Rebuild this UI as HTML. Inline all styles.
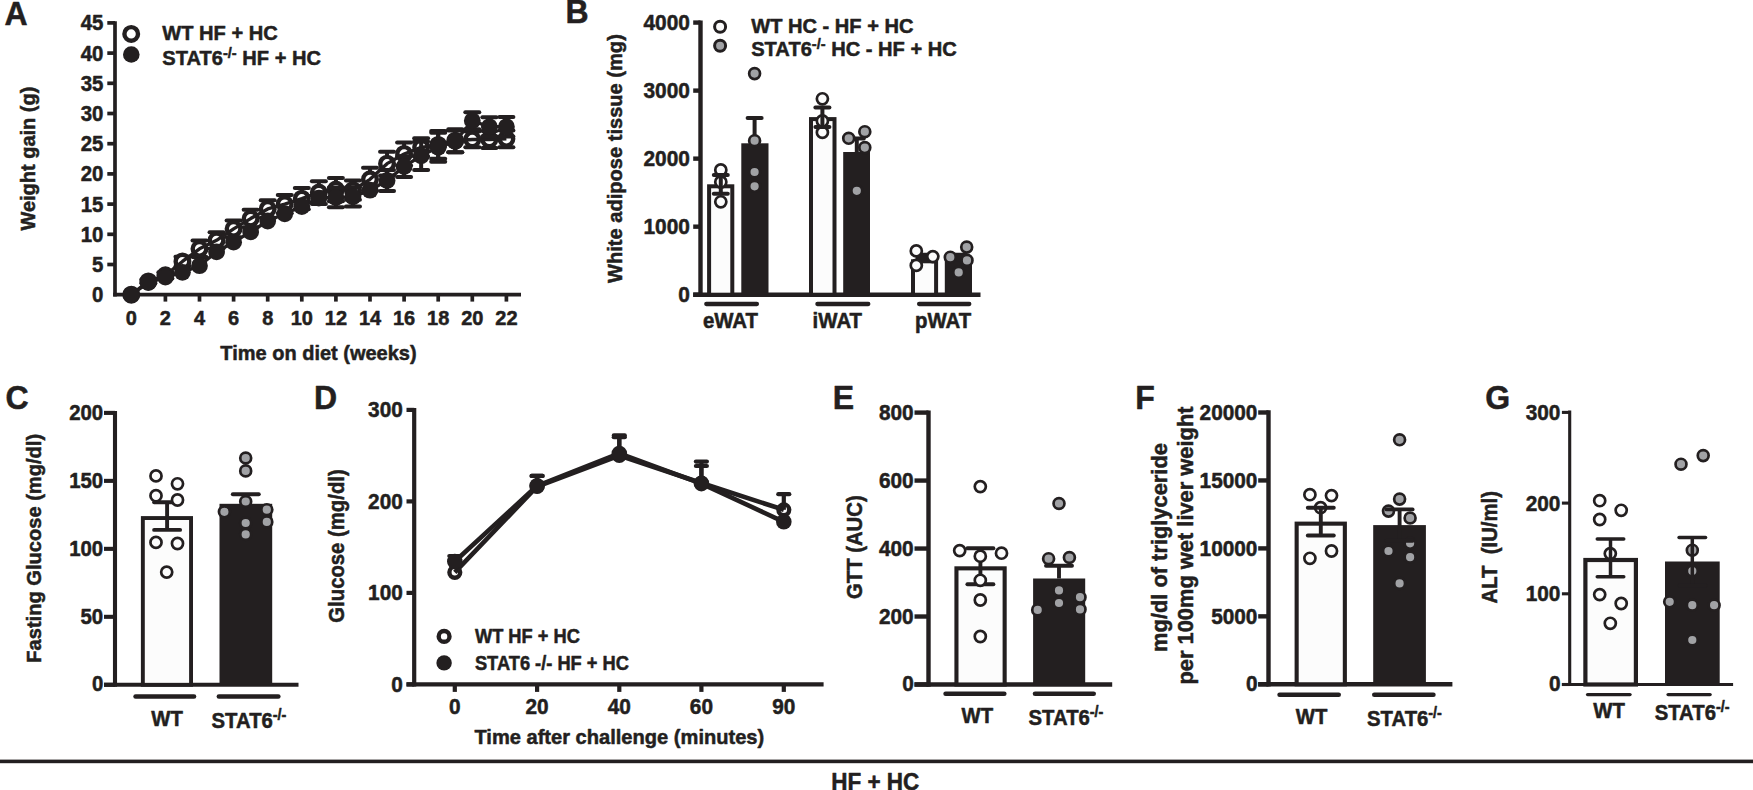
<!DOCTYPE html>
<html lang="en"><head><meta charset="utf-8"><title>Figure</title>
<style>
html,body{margin:0;padding:0;background:#fff;}
svg{display:block;}
svg text{font-family:"Liberation Sans",Arial,Helvetica,sans-serif;font-weight:700;fill:#231f20;stroke:#231f20;stroke-width:0.5px;stroke-linejoin:round;}
</style></head><body>
<svg width="1753" height="790" viewBox="0 0 1753 790">
<rect width="1753" height="790" fill="#fff"/>
<text transform="translate(4.60 24.70) scale(1 1.044)" font-size="32" text-anchor="start">A</text>
<line x1="115.00" y1="21.30" x2="115.00" y2="296.55" stroke="#231f20" stroke-width="3.7" stroke-linecap="butt"/>
<line x1="113.15" y1="294.70" x2="521.00" y2="294.70" stroke="#231f20" stroke-width="3.7" stroke-linecap="butt"/>
<text transform="translate(103.40 301.70) scale(1 1.044)" font-size="20.4" text-anchor="end">0</text>
<line x1="107.30" y1="264.50" x2="115.00" y2="264.50" stroke="#231f20" stroke-width="3.7" stroke-linecap="butt"/>
<text transform="translate(103.40 272.00) scale(1 1.044)" font-size="20.4" text-anchor="end">5</text>
<line x1="107.30" y1="234.30" x2="115.00" y2="234.30" stroke="#231f20" stroke-width="3.7" stroke-linecap="butt"/>
<text transform="translate(103.40 241.80) scale(1 1.044)" font-size="20.4" text-anchor="end">10</text>
<line x1="107.30" y1="204.10" x2="115.00" y2="204.10" stroke="#231f20" stroke-width="3.7" stroke-linecap="butt"/>
<text transform="translate(103.40 211.60) scale(1 1.044)" font-size="20.4" text-anchor="end">15</text>
<line x1="107.30" y1="173.90" x2="115.00" y2="173.90" stroke="#231f20" stroke-width="3.7" stroke-linecap="butt"/>
<text transform="translate(103.40 181.40) scale(1 1.044)" font-size="20.4" text-anchor="end">20</text>
<line x1="107.30" y1="143.70" x2="115.00" y2="143.70" stroke="#231f20" stroke-width="3.7" stroke-linecap="butt"/>
<text transform="translate(103.40 151.20) scale(1 1.044)" font-size="20.4" text-anchor="end">25</text>
<line x1="107.30" y1="113.50" x2="115.00" y2="113.50" stroke="#231f20" stroke-width="3.7" stroke-linecap="butt"/>
<text transform="translate(103.40 121.00) scale(1 1.044)" font-size="20.4" text-anchor="end">30</text>
<line x1="107.30" y1="83.30" x2="115.00" y2="83.30" stroke="#231f20" stroke-width="3.7" stroke-linecap="butt"/>
<text transform="translate(103.40 90.80) scale(1 1.044)" font-size="20.4" text-anchor="end">35</text>
<line x1="107.30" y1="53.10" x2="115.00" y2="53.10" stroke="#231f20" stroke-width="3.7" stroke-linecap="butt"/>
<text transform="translate(103.40 60.60) scale(1 1.044)" font-size="20.4" text-anchor="end">40</text>
<line x1="107.30" y1="22.90" x2="115.00" y2="22.90" stroke="#231f20" stroke-width="3.7" stroke-linecap="butt"/>
<text transform="translate(103.40 30.40) scale(1 1.044)" font-size="20.4" text-anchor="end">45</text>
<line x1="131.30" y1="294.70" x2="131.30" y2="301.60" stroke="#231f20" stroke-width="3.7" stroke-linecap="butt"/>
<text transform="translate(131.30 324.60) scale(1 1.044)" font-size="20" text-anchor="middle">0</text>
<line x1="165.40" y1="294.70" x2="165.40" y2="301.60" stroke="#231f20" stroke-width="3.7" stroke-linecap="butt"/>
<text transform="translate(165.40 324.60) scale(1 1.044)" font-size="20" text-anchor="middle">2</text>
<line x1="199.50" y1="294.70" x2="199.50" y2="301.60" stroke="#231f20" stroke-width="3.7" stroke-linecap="butt"/>
<text transform="translate(199.50 324.60) scale(1 1.044)" font-size="20" text-anchor="middle">4</text>
<line x1="233.60" y1="294.70" x2="233.60" y2="301.60" stroke="#231f20" stroke-width="3.7" stroke-linecap="butt"/>
<text transform="translate(233.60 324.60) scale(1 1.044)" font-size="20" text-anchor="middle">6</text>
<line x1="267.70" y1="294.70" x2="267.70" y2="301.60" stroke="#231f20" stroke-width="3.7" stroke-linecap="butt"/>
<text transform="translate(267.70 324.60) scale(1 1.044)" font-size="20" text-anchor="middle">8</text>
<line x1="301.80" y1="294.70" x2="301.80" y2="301.60" stroke="#231f20" stroke-width="3.7" stroke-linecap="butt"/>
<text transform="translate(301.80 324.60) scale(1 1.044)" font-size="20" text-anchor="middle">10</text>
<line x1="335.90" y1="294.70" x2="335.90" y2="301.60" stroke="#231f20" stroke-width="3.7" stroke-linecap="butt"/>
<text transform="translate(335.90 324.60) scale(1 1.044)" font-size="20" text-anchor="middle">12</text>
<line x1="370.00" y1="294.70" x2="370.00" y2="301.60" stroke="#231f20" stroke-width="3.7" stroke-linecap="butt"/>
<text transform="translate(370.00 324.60) scale(1 1.044)" font-size="20" text-anchor="middle">14</text>
<line x1="404.10" y1="294.70" x2="404.10" y2="301.60" stroke="#231f20" stroke-width="3.7" stroke-linecap="butt"/>
<text transform="translate(404.10 324.60) scale(1 1.044)" font-size="20" text-anchor="middle">16</text>
<line x1="438.20" y1="294.70" x2="438.20" y2="301.60" stroke="#231f20" stroke-width="3.7" stroke-linecap="butt"/>
<text transform="translate(438.20 324.60) scale(1 1.044)" font-size="20" text-anchor="middle">18</text>
<line x1="472.30" y1="294.70" x2="472.30" y2="301.60" stroke="#231f20" stroke-width="3.7" stroke-linecap="butt"/>
<text transform="translate(472.30 324.60) scale(1 1.044)" font-size="20" text-anchor="middle">20</text>
<line x1="506.40" y1="294.70" x2="506.40" y2="301.60" stroke="#231f20" stroke-width="3.7" stroke-linecap="butt"/>
<text transform="translate(506.40 324.60) scale(1 1.044)" font-size="20" text-anchor="middle">22</text>
<text transform="translate(318.50 360.00) scale(1 1.044)" font-size="20" text-anchor="middle">Time on diet (weeks)</text>
<text transform="translate(35.20 158.60) rotate(-90) scale(1 1.044)" font-size="20" text-anchor="middle">Weight gain (g)</text>
<circle cx="131.20" cy="33.90" r="6.80" fill="none" stroke="#231f20" stroke-width="4.4"/>
<circle cx="131.30" cy="54.50" r="8.30" fill="#231f20"/>
<text transform="translate(162.30 40.40) scale(1 1.044)" font-size="20.1" text-anchor="start">WT HF + HC</text>
<text transform="translate(162.30 64.70) scale(1 1.044)" font-size="20.1" text-anchor="start">STAT6<tspan font-size="14.6" dy="-6.8">-/-</tspan><tspan dy="6.8"> HF + HC</tspan></text>
<line x1="148.35" y1="279.60" x2="148.35" y2="283.22" stroke="#231f20" stroke-width="4.0" stroke-linecap="butt"/>
<line x1="141.35" y1="279.60" x2="155.35" y2="279.60" stroke="#231f20" stroke-width="4.0" stroke-linecap="round"/>
<line x1="141.35" y1="283.22" x2="155.35" y2="283.22" stroke="#231f20" stroke-width="4.0" stroke-linecap="round"/>
<line x1="165.40" y1="272.35" x2="165.40" y2="278.39" stroke="#231f20" stroke-width="4.0" stroke-linecap="butt"/>
<line x1="158.40" y1="272.35" x2="172.40" y2="272.35" stroke="#231f20" stroke-width="4.0" stroke-linecap="round"/>
<line x1="158.40" y1="278.39" x2="172.40" y2="278.39" stroke="#231f20" stroke-width="4.0" stroke-linecap="round"/>
<line x1="182.45" y1="256.65" x2="182.45" y2="266.31" stroke="#231f20" stroke-width="4.0" stroke-linecap="butt"/>
<line x1="175.45" y1="256.65" x2="189.45" y2="256.65" stroke="#231f20" stroke-width="4.0" stroke-linecap="round"/>
<line x1="175.45" y1="266.31" x2="189.45" y2="266.31" stroke="#231f20" stroke-width="4.0" stroke-linecap="round"/>
<line x1="199.50" y1="240.52" x2="199.50" y2="257.07" stroke="#231f20" stroke-width="4.0" stroke-linecap="butt"/>
<line x1="192.50" y1="240.52" x2="206.50" y2="240.52" stroke="#231f20" stroke-width="4.0" stroke-linecap="round"/>
<line x1="192.50" y1="257.07" x2="206.50" y2="257.07" stroke="#231f20" stroke-width="4.0" stroke-linecap="round"/>
<line x1="216.55" y1="232.19" x2="216.55" y2="248.49" stroke="#231f20" stroke-width="4.0" stroke-linecap="butt"/>
<line x1="209.55" y1="232.19" x2="223.55" y2="232.19" stroke="#231f20" stroke-width="4.0" stroke-linecap="round"/>
<line x1="209.55" y1="248.49" x2="223.55" y2="248.49" stroke="#231f20" stroke-width="4.0" stroke-linecap="round"/>
<line x1="233.60" y1="220.59" x2="233.60" y2="237.14" stroke="#231f20" stroke-width="4.0" stroke-linecap="butt"/>
<line x1="226.60" y1="220.59" x2="240.60" y2="220.59" stroke="#231f20" stroke-width="4.0" stroke-linecap="round"/>
<line x1="226.60" y1="237.14" x2="240.60" y2="237.14" stroke="#231f20" stroke-width="4.0" stroke-linecap="round"/>
<line x1="250.65" y1="209.84" x2="250.65" y2="227.35" stroke="#231f20" stroke-width="4.0" stroke-linecap="butt"/>
<line x1="243.65" y1="209.84" x2="257.65" y2="209.84" stroke="#231f20" stroke-width="4.0" stroke-linecap="round"/>
<line x1="243.65" y1="227.35" x2="257.65" y2="227.35" stroke="#231f20" stroke-width="4.0" stroke-linecap="round"/>
<line x1="267.70" y1="200.17" x2="267.70" y2="217.69" stroke="#231f20" stroke-width="4.0" stroke-linecap="butt"/>
<line x1="260.70" y1="200.17" x2="274.70" y2="200.17" stroke="#231f20" stroke-width="4.0" stroke-linecap="round"/>
<line x1="260.70" y1="217.69" x2="274.70" y2="217.69" stroke="#231f20" stroke-width="4.0" stroke-linecap="round"/>
<line x1="284.75" y1="195.04" x2="284.75" y2="213.16" stroke="#231f20" stroke-width="4.0" stroke-linecap="butt"/>
<line x1="277.75" y1="195.04" x2="291.75" y2="195.04" stroke="#231f20" stroke-width="4.0" stroke-linecap="round"/>
<line x1="277.75" y1="213.16" x2="291.75" y2="213.16" stroke="#231f20" stroke-width="4.0" stroke-linecap="round"/>
<line x1="301.80" y1="188.09" x2="301.80" y2="209.23" stroke="#231f20" stroke-width="4.0" stroke-linecap="butt"/>
<line x1="294.80" y1="188.09" x2="308.80" y2="188.09" stroke="#231f20" stroke-width="4.0" stroke-linecap="round"/>
<line x1="294.80" y1="209.23" x2="308.80" y2="209.23" stroke="#231f20" stroke-width="4.0" stroke-linecap="round"/>
<line x1="318.85" y1="181.15" x2="318.85" y2="204.10" stroke="#231f20" stroke-width="4.0" stroke-linecap="butt"/>
<line x1="311.85" y1="181.15" x2="325.85" y2="181.15" stroke="#231f20" stroke-width="4.0" stroke-linecap="round"/>
<line x1="311.85" y1="204.10" x2="325.85" y2="204.10" stroke="#231f20" stroke-width="4.0" stroke-linecap="round"/>
<line x1="335.90" y1="178.01" x2="335.90" y2="201.20" stroke="#231f20" stroke-width="4.0" stroke-linecap="butt"/>
<line x1="328.90" y1="178.01" x2="342.90" y2="178.01" stroke="#231f20" stroke-width="4.0" stroke-linecap="round"/>
<line x1="328.90" y1="201.20" x2="342.90" y2="201.20" stroke="#231f20" stroke-width="4.0" stroke-linecap="round"/>
<line x1="352.95" y1="180.54" x2="352.95" y2="199.87" stroke="#231f20" stroke-width="4.0" stroke-linecap="butt"/>
<line x1="345.95" y1="180.54" x2="359.95" y2="180.54" stroke="#231f20" stroke-width="4.0" stroke-linecap="round"/>
<line x1="345.95" y1="199.87" x2="359.95" y2="199.87" stroke="#231f20" stroke-width="4.0" stroke-linecap="round"/>
<line x1="370.00" y1="167.86" x2="370.00" y2="190.81" stroke="#231f20" stroke-width="4.0" stroke-linecap="butt"/>
<line x1="363.00" y1="167.86" x2="377.00" y2="167.86" stroke="#231f20" stroke-width="4.0" stroke-linecap="round"/>
<line x1="363.00" y1="190.81" x2="377.00" y2="190.81" stroke="#231f20" stroke-width="4.0" stroke-linecap="round"/>
<line x1="387.05" y1="151.85" x2="387.05" y2="175.41" stroke="#231f20" stroke-width="4.0" stroke-linecap="butt"/>
<line x1="380.05" y1="151.85" x2="394.05" y2="151.85" stroke="#231f20" stroke-width="4.0" stroke-linecap="round"/>
<line x1="380.05" y1="175.41" x2="394.05" y2="175.41" stroke="#231f20" stroke-width="4.0" stroke-linecap="round"/>
<line x1="404.10" y1="142.49" x2="404.10" y2="165.44" stroke="#231f20" stroke-width="4.0" stroke-linecap="butt"/>
<line x1="397.10" y1="142.49" x2="411.10" y2="142.49" stroke="#231f20" stroke-width="4.0" stroke-linecap="round"/>
<line x1="397.10" y1="165.44" x2="411.10" y2="165.44" stroke="#231f20" stroke-width="4.0" stroke-linecap="round"/>
<line x1="421.15" y1="138.26" x2="421.15" y2="156.38" stroke="#231f20" stroke-width="4.0" stroke-linecap="butt"/>
<line x1="414.15" y1="138.26" x2="428.15" y2="138.26" stroke="#231f20" stroke-width="4.0" stroke-linecap="round"/>
<line x1="414.15" y1="156.38" x2="428.15" y2="156.38" stroke="#231f20" stroke-width="4.0" stroke-linecap="round"/>
<line x1="438.20" y1="131.02" x2="438.20" y2="158.80" stroke="#231f20" stroke-width="4.0" stroke-linecap="butt"/>
<line x1="431.20" y1="131.02" x2="445.20" y2="131.02" stroke="#231f20" stroke-width="4.0" stroke-linecap="round"/>
<line x1="431.20" y1="158.80" x2="445.20" y2="158.80" stroke="#231f20" stroke-width="4.0" stroke-linecap="round"/>
<line x1="455.25" y1="129.20" x2="455.25" y2="152.16" stroke="#231f20" stroke-width="4.0" stroke-linecap="butt"/>
<line x1="448.25" y1="129.20" x2="462.25" y2="129.20" stroke="#231f20" stroke-width="4.0" stroke-linecap="round"/>
<line x1="448.25" y1="152.16" x2="462.25" y2="152.16" stroke="#231f20" stroke-width="4.0" stroke-linecap="round"/>
<line x1="472.30" y1="131.62" x2="472.30" y2="147.32" stroke="#231f20" stroke-width="4.0" stroke-linecap="butt"/>
<line x1="465.30" y1="131.62" x2="479.30" y2="131.62" stroke="#231f20" stroke-width="4.0" stroke-linecap="round"/>
<line x1="465.30" y1="147.32" x2="479.30" y2="147.32" stroke="#231f20" stroke-width="4.0" stroke-linecap="round"/>
<line x1="489.35" y1="131.02" x2="489.35" y2="147.93" stroke="#231f20" stroke-width="4.0" stroke-linecap="butt"/>
<line x1="482.35" y1="131.02" x2="496.35" y2="131.02" stroke="#231f20" stroke-width="4.0" stroke-linecap="round"/>
<line x1="482.35" y1="147.93" x2="496.35" y2="147.93" stroke="#231f20" stroke-width="4.0" stroke-linecap="round"/>
<line x1="506.40" y1="130.41" x2="506.40" y2="147.32" stroke="#231f20" stroke-width="4.0" stroke-linecap="butt"/>
<line x1="499.40" y1="130.41" x2="513.40" y2="130.41" stroke="#231f20" stroke-width="4.0" stroke-linecap="round"/>
<line x1="499.40" y1="147.32" x2="513.40" y2="147.32" stroke="#231f20" stroke-width="4.0" stroke-linecap="round"/>
<circle cx="131.30" cy="294.70" r="6.80" fill="#fff" stroke="#231f20" stroke-width="4.4"/>
<circle cx="148.35" cy="281.41" r="6.80" fill="#fff" stroke="#231f20" stroke-width="4.4"/>
<circle cx="165.40" cy="275.37" r="6.80" fill="#fff" stroke="#231f20" stroke-width="4.4"/>
<circle cx="182.45" cy="261.48" r="6.80" fill="#fff" stroke="#231f20" stroke-width="4.4"/>
<circle cx="199.50" cy="248.80" r="6.80" fill="#fff" stroke="#231f20" stroke-width="4.4"/>
<circle cx="216.55" cy="240.34" r="6.80" fill="#fff" stroke="#231f20" stroke-width="4.4"/>
<circle cx="233.60" cy="228.86" r="6.80" fill="#fff" stroke="#231f20" stroke-width="4.4"/>
<circle cx="250.65" cy="218.60" r="6.80" fill="#fff" stroke="#231f20" stroke-width="4.4"/>
<circle cx="267.70" cy="208.93" r="6.80" fill="#fff" stroke="#231f20" stroke-width="4.4"/>
<circle cx="284.75" cy="204.10" r="6.80" fill="#fff" stroke="#231f20" stroke-width="4.4"/>
<circle cx="301.80" cy="198.66" r="6.80" fill="#fff" stroke="#231f20" stroke-width="4.4"/>
<circle cx="318.85" cy="192.62" r="6.80" fill="#fff" stroke="#231f20" stroke-width="4.4"/>
<circle cx="335.90" cy="189.60" r="6.80" fill="#fff" stroke="#231f20" stroke-width="4.4"/>
<circle cx="352.95" cy="190.21" r="6.80" fill="#fff" stroke="#231f20" stroke-width="4.4"/>
<circle cx="370.00" cy="179.34" r="6.80" fill="#fff" stroke="#231f20" stroke-width="4.4"/>
<circle cx="387.05" cy="163.63" r="6.80" fill="#fff" stroke="#231f20" stroke-width="4.4"/>
<circle cx="404.10" cy="153.97" r="6.80" fill="#fff" stroke="#231f20" stroke-width="4.4"/>
<circle cx="421.15" cy="147.32" r="6.80" fill="#fff" stroke="#231f20" stroke-width="4.4"/>
<circle cx="438.20" cy="144.91" r="6.80" fill="#fff" stroke="#231f20" stroke-width="4.4"/>
<circle cx="455.25" cy="140.68" r="6.80" fill="#fff" stroke="#231f20" stroke-width="4.4"/>
<circle cx="472.30" cy="139.47" r="6.80" fill="#fff" stroke="#231f20" stroke-width="4.4"/>
<circle cx="489.35" cy="139.47" r="6.80" fill="#fff" stroke="#231f20" stroke-width="4.4"/>
<circle cx="506.40" cy="138.87" r="6.80" fill="#fff" stroke="#231f20" stroke-width="4.4"/>
<polyline points="131.30,294.70 148.35,281.41 165.40,275.37 182.45,261.48 199.50,248.80 216.55,240.34 233.60,228.86 250.65,218.60 267.70,208.93 284.75,204.10 301.80,198.66 318.85,192.62 335.90,189.60 352.95,190.21 370.00,179.34 387.05,163.63 404.10,153.97 421.15,147.32 438.20,144.91 455.25,140.68 472.30,139.47 489.35,139.47 506.40,138.87" fill="none" stroke="#231f20" stroke-width="3.4" stroke-linejoin="round"/>
<polyline points="131.30,294.70 148.35,282.62 165.40,277.18 182.45,272.35 199.50,265.71 216.55,251.82 233.60,242.15 250.65,231.88 267.70,221.01 284.75,213.76 301.80,206.52 318.85,198.06 335.90,197.46 352.95,196.85 370.00,190.21 387.05,180.54 404.10,166.65 421.15,155.78 438.20,147.32 455.25,141.28 472.30,120.75 489.35,126.79 506.40,126.79" fill="none" stroke="#231f20" stroke-width="3.4" stroke-linejoin="round"/>
<line x1="335.90" y1="187.55" x2="335.90" y2="207.36" stroke="#231f20" stroke-width="4.0" stroke-linecap="butt"/>
<line x1="328.90" y1="187.55" x2="342.90" y2="187.55" stroke="#231f20" stroke-width="4.0" stroke-linecap="round"/>
<line x1="328.90" y1="207.36" x2="342.90" y2="207.36" stroke="#231f20" stroke-width="4.0" stroke-linecap="round"/>
<line x1="352.95" y1="187.19" x2="352.95" y2="206.52" stroke="#231f20" stroke-width="4.0" stroke-linecap="butt"/>
<line x1="345.95" y1="187.19" x2="359.95" y2="187.19" stroke="#231f20" stroke-width="4.0" stroke-linecap="round"/>
<line x1="345.95" y1="206.52" x2="359.95" y2="206.52" stroke="#231f20" stroke-width="4.0" stroke-linecap="round"/>
<line x1="387.05" y1="170.03" x2="387.05" y2="191.05" stroke="#231f20" stroke-width="4.0" stroke-linecap="butt"/>
<line x1="380.05" y1="170.03" x2="394.05" y2="170.03" stroke="#231f20" stroke-width="4.0" stroke-linecap="round"/>
<line x1="380.05" y1="191.05" x2="394.05" y2="191.05" stroke="#231f20" stroke-width="4.0" stroke-linecap="round"/>
<line x1="404.10" y1="156.26" x2="404.10" y2="177.04" stroke="#231f20" stroke-width="4.0" stroke-linecap="butt"/>
<line x1="397.10" y1="156.26" x2="411.10" y2="156.26" stroke="#231f20" stroke-width="4.0" stroke-linecap="round"/>
<line x1="397.10" y1="177.04" x2="411.10" y2="177.04" stroke="#231f20" stroke-width="4.0" stroke-linecap="round"/>
<line x1="421.15" y1="141.59" x2="421.15" y2="169.97" stroke="#231f20" stroke-width="4.0" stroke-linecap="butt"/>
<line x1="414.15" y1="141.59" x2="428.15" y2="141.59" stroke="#231f20" stroke-width="4.0" stroke-linecap="round"/>
<line x1="414.15" y1="169.97" x2="428.15" y2="169.97" stroke="#231f20" stroke-width="4.0" stroke-linecap="round"/>
<line x1="438.20" y1="132.83" x2="438.20" y2="161.82" stroke="#231f20" stroke-width="4.0" stroke-linecap="butt"/>
<line x1="431.20" y1="132.83" x2="445.20" y2="132.83" stroke="#231f20" stroke-width="4.0" stroke-linecap="round"/>
<line x1="431.20" y1="161.82" x2="445.20" y2="161.82" stroke="#231f20" stroke-width="4.0" stroke-linecap="round"/>
<line x1="455.25" y1="130.41" x2="455.25" y2="152.16" stroke="#231f20" stroke-width="4.0" stroke-linecap="butt"/>
<line x1="448.25" y1="130.41" x2="462.25" y2="130.41" stroke="#231f20" stroke-width="4.0" stroke-linecap="round"/>
<line x1="448.25" y1="152.16" x2="462.25" y2="152.16" stroke="#231f20" stroke-width="4.0" stroke-linecap="round"/>
<line x1="472.30" y1="112.29" x2="472.30" y2="129.20" stroke="#231f20" stroke-width="4.0" stroke-linecap="butt"/>
<line x1="465.30" y1="112.29" x2="479.30" y2="112.29" stroke="#231f20" stroke-width="4.0" stroke-linecap="round"/>
<line x1="465.30" y1="129.20" x2="479.30" y2="129.20" stroke="#231f20" stroke-width="4.0" stroke-linecap="round"/>
<line x1="489.35" y1="117.31" x2="489.35" y2="136.27" stroke="#231f20" stroke-width="4.0" stroke-linecap="butt"/>
<line x1="482.35" y1="117.31" x2="496.35" y2="117.31" stroke="#231f20" stroke-width="4.0" stroke-linecap="round"/>
<line x1="482.35" y1="136.27" x2="496.35" y2="136.27" stroke="#231f20" stroke-width="4.0" stroke-linecap="round"/>
<line x1="506.40" y1="117.12" x2="506.40" y2="136.45" stroke="#231f20" stroke-width="4.0" stroke-linecap="butt"/>
<line x1="499.40" y1="117.12" x2="513.40" y2="117.12" stroke="#231f20" stroke-width="4.0" stroke-linecap="round"/>
<line x1="499.40" y1="136.45" x2="513.40" y2="136.45" stroke="#231f20" stroke-width="4.0" stroke-linecap="round"/>
<circle cx="131.30" cy="294.70" r="8.40" fill="#231f20"/>
<circle cx="148.35" cy="282.62" r="8.40" fill="#231f20"/>
<circle cx="165.40" cy="277.18" r="8.40" fill="#231f20"/>
<circle cx="182.45" cy="272.35" r="8.40" fill="#231f20"/>
<circle cx="199.50" cy="265.71" r="8.40" fill="#231f20"/>
<circle cx="216.55" cy="251.82" r="8.40" fill="#231f20"/>
<circle cx="233.60" cy="242.15" r="8.40" fill="#231f20"/>
<circle cx="250.65" cy="231.88" r="8.40" fill="#231f20"/>
<circle cx="267.70" cy="221.01" r="8.40" fill="#231f20"/>
<circle cx="284.75" cy="213.76" r="8.40" fill="#231f20"/>
<circle cx="301.80" cy="206.52" r="8.40" fill="#231f20"/>
<circle cx="318.85" cy="198.06" r="8.40" fill="#231f20"/>
<circle cx="335.90" cy="197.46" r="8.40" fill="#231f20"/>
<circle cx="352.95" cy="196.85" r="8.40" fill="#231f20"/>
<circle cx="370.00" cy="190.21" r="8.40" fill="#231f20"/>
<circle cx="387.05" cy="180.54" r="8.40" fill="#231f20"/>
<circle cx="404.10" cy="166.65" r="8.40" fill="#231f20"/>
<circle cx="421.15" cy="155.78" r="8.40" fill="#231f20"/>
<circle cx="438.20" cy="147.32" r="8.40" fill="#231f20"/>
<circle cx="455.25" cy="141.28" r="8.40" fill="#231f20"/>
<circle cx="472.30" cy="120.75" r="8.40" fill="#231f20"/>
<circle cx="489.35" cy="126.79" r="8.40" fill="#231f20"/>
<circle cx="506.40" cy="126.79" r="8.40" fill="#231f20"/>
<text transform="translate(565.40 23.40) scale(1 1.044)" font-size="32" text-anchor="start">B</text>
<line x1="700.50" y1="20.40" x2="700.50" y2="296.90" stroke="#231f20" stroke-width="4.4" stroke-linecap="butt"/>
<line x1="693.20" y1="294.70" x2="980.50" y2="294.70" stroke="#231f20" stroke-width="4.4" stroke-linecap="butt"/>
<line x1="693.20" y1="294.70" x2="700.50" y2="294.70" stroke="#231f20" stroke-width="4.4" stroke-linecap="butt"/>
<text transform="translate(690.00 301.50) scale(1 1.044)" font-size="20.9" text-anchor="end">0</text>
<line x1="693.20" y1="226.67" x2="700.50" y2="226.67" stroke="#231f20" stroke-width="4.4" stroke-linecap="butt"/>
<text transform="translate(690.00 234.27) scale(1 1.044)" font-size="20.9" text-anchor="end">1000</text>
<line x1="693.20" y1="158.64" x2="700.50" y2="158.64" stroke="#231f20" stroke-width="4.4" stroke-linecap="butt"/>
<text transform="translate(690.00 166.24) scale(1 1.044)" font-size="20.9" text-anchor="end">2000</text>
<line x1="693.20" y1="90.61" x2="700.50" y2="90.61" stroke="#231f20" stroke-width="4.4" stroke-linecap="butt"/>
<text transform="translate(690.00 98.21) scale(1 1.044)" font-size="20.9" text-anchor="end">3000</text>
<line x1="693.20" y1="22.58" x2="700.50" y2="22.58" stroke="#231f20" stroke-width="4.4" stroke-linecap="butt"/>
<text transform="translate(690.00 30.18) scale(1 1.044)" font-size="20.9" text-anchor="end">4000</text>
<text transform="translate(622.00 158.60) rotate(-90) scale(1 1.044)" font-size="20.1" text-anchor="middle">White adipose tissue (mg)</text>
<circle cx="720.10" cy="26.80" r="5.50" fill="#fcfcfc" stroke="#231f20" stroke-width="3.0"/>
<circle cx="720.10" cy="45.80" r="5.50" fill="#a1a2a5" stroke="#231f20" stroke-width="3.0"/>
<text transform="translate(751.20 33.30) scale(1 1.044)" font-size="20.1" text-anchor="start">WT HC - HF + HC</text>
<text transform="translate(751.20 56.10) scale(1 1.044)" font-size="20.1" text-anchor="start">STAT6<tspan font-size="14.6" dy="-7.2">-/-</tspan><tspan dy="7.2"> HC - HF + HC</tspan></text>
<rect x="709.10" y="186.30" width="23.20" height="108.40" fill="#fcfcfc" stroke="#231f20" stroke-width="4.0"/>
<rect x="741.30" y="143.30" width="27.20" height="151.40" fill="#231f20"/>
<rect x="811.00" y="119.10" width="23.50" height="175.60" fill="#fcfcfc" stroke="#231f20" stroke-width="4.0"/>
<rect x="843.20" y="152.00" width="26.80" height="142.70" fill="#231f20"/>
<rect x="913.00" y="261.30" width="23.10" height="33.40" fill="#fcfcfc" stroke="#231f20" stroke-width="4.0"/>
<rect x="944.80" y="259.30" width="27.20" height="35.40" fill="#231f20"/>
<circle cx="720.80" cy="170.00" r="5.55" fill="#fcfcfc" stroke="#231f20" stroke-width="2.7"/>
<circle cx="720.80" cy="182.00" r="5.55" fill="#fcfcfc" stroke="#231f20" stroke-width="2.7"/>
<circle cx="720.80" cy="201.80" r="5.55" fill="#fcfcfc" stroke="#231f20" stroke-width="2.7"/>
<circle cx="822.40" cy="98.80" r="5.55" fill="#fcfcfc" stroke="#231f20" stroke-width="2.7"/>
<circle cx="822.40" cy="121.00" r="5.55" fill="#fcfcfc" stroke="#231f20" stroke-width="2.7"/>
<circle cx="822.40" cy="132.40" r="5.55" fill="#fcfcfc" stroke="#231f20" stroke-width="2.7"/>
<line x1="720.80" y1="174.90" x2="720.80" y2="193.70" stroke="#231f20" stroke-width="4.0" stroke-linecap="butt"/>
<line x1="713.80" y1="174.90" x2="727.80" y2="174.90" stroke="#231f20" stroke-width="4.0" stroke-linecap="round"/>
<line x1="713.80" y1="193.70" x2="727.80" y2="193.70" stroke="#231f20" stroke-width="4.0" stroke-linecap="round"/>
<line x1="822.40" y1="107.40" x2="822.40" y2="127.00" stroke="#231f20" stroke-width="4.0" stroke-linecap="butt"/>
<line x1="815.40" y1="107.40" x2="829.40" y2="107.40" stroke="#231f20" stroke-width="4.0" stroke-linecap="round"/>
<line x1="815.40" y1="127.00" x2="829.40" y2="127.00" stroke="#231f20" stroke-width="4.0" stroke-linecap="round"/>
<line x1="754.60" y1="118.00" x2="754.60" y2="143.30" stroke="#231f20" stroke-width="4.0" stroke-linecap="butt"/>
<line x1="747.60" y1="118.00" x2="761.60" y2="118.00" stroke="#231f20" stroke-width="4.0" stroke-linecap="round"/>
<line x1="856.80" y1="138.40" x2="856.80" y2="152.00" stroke="#231f20" stroke-width="4.0" stroke-linecap="butt"/>
<line x1="849.80" y1="138.40" x2="863.80" y2="138.40" stroke="#231f20" stroke-width="4.0" stroke-linecap="round"/>
<circle cx="754.60" cy="73.60" r="5.45" fill="#a1a2a5" stroke="#231f20" stroke-width="2.7"/>
<circle cx="754.60" cy="140.70" r="5.45" fill="#a1a2a5" stroke="#231f20" stroke-width="2.7"/>
<circle cx="754.60" cy="172.00" r="5.45" fill="#a1a2a5" stroke="#231f20" stroke-width="2.7"/>
<circle cx="754.60" cy="186.30" r="5.45" fill="#a1a2a5" stroke="#231f20" stroke-width="2.7"/>
<circle cx="848.70" cy="138.30" r="5.45" fill="#a1a2a5" stroke="#231f20" stroke-width="2.7"/>
<circle cx="864.80" cy="131.70" r="5.45" fill="#a1a2a5" stroke="#231f20" stroke-width="2.7"/>
<circle cx="864.80" cy="147.60" r="5.45" fill="#a1a2a5" stroke="#231f20" stroke-width="2.7"/>
<circle cx="856.80" cy="190.80" r="5.45" fill="#a1a2a5" stroke="#231f20" stroke-width="2.7"/>
<line x1="924.50" y1="254.80" x2="924.50" y2="258.50" stroke="#231f20" stroke-width="4.0" stroke-linecap="butt"/>
<line x1="917.50" y1="254.80" x2="931.50" y2="254.80" stroke="#231f20" stroke-width="4.0" stroke-linecap="round"/>
<line x1="917.50" y1="258.50" x2="931.50" y2="258.50" stroke="#231f20" stroke-width="4.0" stroke-linecap="round"/>
<line x1="917.50" y1="256.70" x2="931.50" y2="256.70" stroke="#231f20" stroke-width="4.0" stroke-linecap="round"/>
<line x1="958.50" y1="254.80" x2="958.50" y2="257.50" stroke="#231f20" stroke-width="4.0" stroke-linecap="butt"/>
<line x1="951.50" y1="254.80" x2="965.50" y2="254.80" stroke="#231f20" stroke-width="4.0" stroke-linecap="round"/>
<line x1="951.50" y1="257.50" x2="965.50" y2="257.50" stroke="#231f20" stroke-width="4.0" stroke-linecap="round"/>
<line x1="951.50" y1="256.20" x2="965.50" y2="256.20" stroke="#231f20" stroke-width="4.0" stroke-linecap="round"/>
<rect x="951.00" y="255.00" width="15.00" height="6.50" fill="#231f20"/>
<rect x="917.50" y="255.00" width="14.00" height="5.00" fill="#231f20"/>
<circle cx="916.30" cy="250.90" r="5.55" fill="#fcfcfc" stroke="#231f20" stroke-width="2.7"/>
<circle cx="932.80" cy="256.60" r="5.55" fill="#fcfcfc" stroke="#231f20" stroke-width="2.7"/>
<circle cx="916.30" cy="265.40" r="5.55" fill="#fcfcfc" stroke="#231f20" stroke-width="2.7"/>
<circle cx="966.70" cy="247.10" r="5.45" fill="#a1a2a5" stroke="#231f20" stroke-width="2.7"/>
<circle cx="950.30" cy="257.20" r="5.45" fill="#a1a2a5" stroke="#231f20" stroke-width="2.7"/>
<circle cx="967.00" cy="260.40" r="5.45" fill="#a1a2a5" stroke="#231f20" stroke-width="2.7"/>
<circle cx="958.70" cy="272.40" r="5.45" fill="#a1a2a5" stroke="#231f20" stroke-width="2.7"/>
<line x1="706.30" y1="304.00" x2="756.90" y2="304.00" stroke="#231f20" stroke-width="4.3" stroke-linecap="round"/>
<text transform="translate(702.90 328.10) scale(1 1.044)" font-size="20.4" text-anchor="start">eWAT</text>
<line x1="817.40" y1="304.00" x2="868.30" y2="304.00" stroke="#231f20" stroke-width="4.3" stroke-linecap="round"/>
<text transform="translate(812.60 328.10) scale(1 1.044)" font-size="20.4" text-anchor="start">iWAT</text>
<line x1="919.10" y1="304.00" x2="969.30" y2="304.00" stroke="#231f20" stroke-width="4.3" stroke-linecap="round"/>
<text transform="translate(915.00 328.10) scale(1 1.044)" font-size="20.4" text-anchor="start">pWAT</text>
<text transform="translate(5.60 408.70) scale(1 1.044)" font-size="32" text-anchor="start">C</text>
<line x1="115.00" y1="411.00" x2="115.00" y2="686.85" stroke="#231f20" stroke-width="4.1" stroke-linecap="butt"/>
<line x1="104.00" y1="684.80" x2="298.50" y2="684.80" stroke="#231f20" stroke-width="4.1" stroke-linecap="butt"/>
<line x1="104.00" y1="684.80" x2="115.00" y2="684.80" stroke="#231f20" stroke-width="4.1" stroke-linecap="butt"/>
<text transform="translate(103.40 691.26) scale(1 1.044)" font-size="20.4" text-anchor="end">0</text>
<line x1="104.00" y1="616.82" x2="115.00" y2="616.82" stroke="#231f20" stroke-width="4.1" stroke-linecap="butt"/>
<text transform="translate(103.20 624.08) scale(1 1.044)" font-size="20.4" text-anchor="end">50</text>
<line x1="104.00" y1="548.85" x2="115.00" y2="548.85" stroke="#231f20" stroke-width="4.1" stroke-linecap="butt"/>
<text transform="translate(103.20 556.11) scale(1 1.044)" font-size="20.4" text-anchor="end">100</text>
<line x1="104.00" y1="480.87" x2="115.00" y2="480.87" stroke="#231f20" stroke-width="4.1" stroke-linecap="butt"/>
<text transform="translate(103.20 488.13) scale(1 1.044)" font-size="20.4" text-anchor="end">150</text>
<line x1="104.00" y1="412.90" x2="115.00" y2="412.90" stroke="#231f20" stroke-width="4.1" stroke-linecap="butt"/>
<text transform="translate(103.20 420.16) scale(1 1.044)" font-size="20.4" text-anchor="end">200</text>
<text transform="translate(41.00 548.30) rotate(-90) scale(1 1.044)" font-size="20.1" text-anchor="middle">Fasting Glucose (mg/dl)</text>
<rect x="142.85" y="518.05" width="48.20" height="166.75" fill="#fcfcfc" stroke="#231f20" stroke-width="3.9"/>
<rect x="219.50" y="503.80" width="52.70" height="181.00" fill="#231f20"/>
<line x1="167.10" y1="502.30" x2="167.10" y2="529.90" stroke="#231f20" stroke-width="3.9" stroke-linecap="butt"/>
<line x1="154.10" y1="502.30" x2="180.10" y2="502.30" stroke="#231f20" stroke-width="3.9" stroke-linecap="round"/>
<line x1="154.10" y1="529.90" x2="180.10" y2="529.90" stroke="#231f20" stroke-width="3.9" stroke-linecap="round"/>
<line x1="245.80" y1="494.20" x2="245.80" y2="503.80" stroke="#231f20" stroke-width="3.9" stroke-linecap="butt"/>
<line x1="232.80" y1="494.20" x2="258.80" y2="494.20" stroke="#231f20" stroke-width="3.9" stroke-linecap="round"/>
<circle cx="156.00" cy="475.90" r="5.55" fill="#fcfcfc" stroke="#231f20" stroke-width="2.7"/>
<circle cx="177.50" cy="483.80" r="5.55" fill="#fcfcfc" stroke="#231f20" stroke-width="2.7"/>
<circle cx="156.00" cy="495.70" r="5.55" fill="#fcfcfc" stroke="#231f20" stroke-width="2.7"/>
<circle cx="177.50" cy="500.00" r="5.55" fill="#fcfcfc" stroke="#231f20" stroke-width="2.7"/>
<circle cx="156.00" cy="542.40" r="5.55" fill="#fcfcfc" stroke="#231f20" stroke-width="2.7"/>
<circle cx="177.50" cy="543.50" r="5.55" fill="#fcfcfc" stroke="#231f20" stroke-width="2.7"/>
<circle cx="166.70" cy="572.10" r="5.55" fill="#fcfcfc" stroke="#231f20" stroke-width="2.7"/>
<circle cx="245.70" cy="458.00" r="5.45" fill="#a1a2a5" stroke="#231f20" stroke-width="2.7"/>
<circle cx="245.70" cy="470.90" r="5.45" fill="#a1a2a5" stroke="#231f20" stroke-width="2.7"/>
<circle cx="245.70" cy="501.50" r="5.45" fill="#a1a2a5" stroke="#231f20" stroke-width="2.7"/>
<circle cx="224.40" cy="511.80" r="5.45" fill="#a1a2a5" stroke="#231f20" stroke-width="2.7"/>
<circle cx="266.80" cy="509.70" r="5.45" fill="#a1a2a5" stroke="#231f20" stroke-width="2.7"/>
<circle cx="266.80" cy="521.90" r="5.45" fill="#a1a2a5" stroke="#231f20" stroke-width="2.7"/>
<circle cx="245.70" cy="523.00" r="5.45" fill="#a1a2a5" stroke="#231f20" stroke-width="2.7"/>
<circle cx="245.70" cy="534.40" r="5.45" fill="#a1a2a5" stroke="#231f20" stroke-width="2.7"/>
<line x1="135.60" y1="696.50" x2="194.00" y2="696.50" stroke="#231f20" stroke-width="4.6" stroke-linecap="round"/>
<line x1="218.90" y1="696.50" x2="278.30" y2="696.50" stroke="#231f20" stroke-width="4.6" stroke-linecap="round"/>
<text transform="translate(167.00 726.00) scale(1 1.085)" font-size="20.3" text-anchor="middle">WT</text>
<text transform="translate(249.00 727.90) scale(1 1.085)" font-size="20.3" text-anchor="middle">STAT6<tspan font-size="14.4" dy="-7.5">-/-</tspan></text>
<text transform="translate(314.00 408.90) scale(1 1.044)" font-size="32" text-anchor="start">D</text>
<line x1="414.20" y1="408.00" x2="414.20" y2="686.50" stroke="#231f20" stroke-width="4.2" stroke-linecap="butt"/>
<line x1="406.50" y1="684.40" x2="823.60" y2="684.40" stroke="#231f20" stroke-width="4.2" stroke-linecap="butt"/>
<line x1="406.50" y1="684.40" x2="414.20" y2="684.40" stroke="#231f20" stroke-width="4.2" stroke-linecap="butt"/>
<text transform="translate(402.80 691.70) scale(1 1.044)" font-size="20.8" text-anchor="end">0</text>
<line x1="406.50" y1="592.90" x2="414.20" y2="592.90" stroke="#231f20" stroke-width="4.2" stroke-linecap="butt"/>
<text transform="translate(402.80 600.30) scale(1 1.044)" font-size="20.8" text-anchor="end">100</text>
<line x1="406.50" y1="501.40" x2="414.20" y2="501.40" stroke="#231f20" stroke-width="4.2" stroke-linecap="butt"/>
<text transform="translate(402.80 508.80) scale(1 1.044)" font-size="20.8" text-anchor="end">200</text>
<line x1="406.50" y1="409.90" x2="414.20" y2="409.90" stroke="#231f20" stroke-width="4.2" stroke-linecap="butt"/>
<text transform="translate(402.80 417.30) scale(1 1.044)" font-size="20.8" text-anchor="end">300</text>
<line x1="454.80" y1="684.40" x2="454.80" y2="691.90" stroke="#231f20" stroke-width="4.2" stroke-linecap="butt"/>
<text transform="translate(454.80 714.00) scale(1 1.044)" font-size="20.8" text-anchor="middle">0</text>
<line x1="537.10" y1="684.40" x2="537.10" y2="691.90" stroke="#231f20" stroke-width="4.2" stroke-linecap="butt"/>
<text transform="translate(537.10 714.00) scale(1 1.044)" font-size="20.8" text-anchor="middle">20</text>
<line x1="619.30" y1="684.40" x2="619.30" y2="691.90" stroke="#231f20" stroke-width="4.2" stroke-linecap="butt"/>
<text transform="translate(619.30 714.00) scale(1 1.044)" font-size="20.8" text-anchor="middle">40</text>
<line x1="701.40" y1="684.40" x2="701.40" y2="691.90" stroke="#231f20" stroke-width="4.2" stroke-linecap="butt"/>
<text transform="translate(701.40 714.00) scale(1 1.044)" font-size="20.8" text-anchor="middle">60</text>
<line x1="783.80" y1="684.40" x2="783.80" y2="691.90" stroke="#231f20" stroke-width="4.2" stroke-linecap="butt"/>
<text transform="translate(783.80 714.00) scale(1 1.044)" font-size="20.8" text-anchor="middle">90</text>
<text transform="translate(619.30 743.80) scale(1 1.044)" font-size="20.1" text-anchor="middle">Time after challenge (minutes)</text>
<text transform="translate(343.80 546.00) rotate(-90) scale(1 1.044)" font-size="20.3" text-anchor="middle">Glucose (mg/dl)</text>
<circle cx="444.10" cy="636.40" r="5.40" fill="#fff" stroke="#231f20" stroke-width="4.4"/>
<circle cx="444.10" cy="662.90" r="7.70" fill="#231f20"/>
<text transform="translate(474.9 643.3) scale(0.932 1.03)" font-size="19.6">WT HF + HC</text>
<text transform="translate(474.9 670.0) scale(0.932 1.03)" font-size="19.6">STAT6 -/- HF + HC</text>
<polyline points="454.80,572.30 537.10,486.50 619.30,455.50 701.40,483.00 783.80,509.80" fill="none" stroke="#231f20" stroke-width="4.6" stroke-linejoin="round"/>
<line x1="537.10" y1="475.90" x2="537.10" y2="486.50" stroke="#231f20" stroke-width="4.2" stroke-linecap="butt"/>
<line x1="531.60" y1="475.90" x2="542.60" y2="475.90" stroke="#231f20" stroke-width="4.2" stroke-linecap="round"/>
<line x1="619.30" y1="437.20" x2="619.30" y2="455.50" stroke="#231f20" stroke-width="4.2" stroke-linecap="butt"/>
<line x1="613.80" y1="437.20" x2="624.80" y2="437.20" stroke="#231f20" stroke-width="4.2" stroke-linecap="round"/>
<line x1="701.40" y1="466.00" x2="701.40" y2="483.00" stroke="#231f20" stroke-width="4.2" stroke-linecap="butt"/>
<line x1="695.90" y1="466.00" x2="706.90" y2="466.00" stroke="#231f20" stroke-width="4.2" stroke-linecap="round"/>
<line x1="783.80" y1="494.20" x2="783.80" y2="509.80" stroke="#231f20" stroke-width="4.2" stroke-linecap="butt"/>
<line x1="778.30" y1="494.20" x2="789.30" y2="494.20" stroke="#231f20" stroke-width="4.2" stroke-linecap="round"/>
<circle cx="454.80" cy="572.30" r="5.40" fill="none" stroke="#231f20" stroke-width="4.4"/>
<circle cx="537.10" cy="486.50" r="5.40" fill="none" stroke="#231f20" stroke-width="4.4"/>
<circle cx="619.30" cy="455.50" r="5.40" fill="none" stroke="#231f20" stroke-width="4.4"/>
<circle cx="701.40" cy="483.00" r="5.40" fill="none" stroke="#231f20" stroke-width="4.4"/>
<circle cx="783.80" cy="509.80" r="5.40" fill="none" stroke="#231f20" stroke-width="4.4"/>
<polyline points="454.80,561.50 537.10,485.80 619.30,453.50 701.40,483.60 783.80,521.80" fill="none" stroke="#231f20" stroke-width="4.6" stroke-linejoin="round"/>
<line x1="454.80" y1="556.00" x2="454.80" y2="561.50" stroke="#231f20" stroke-width="4.2" stroke-linecap="butt"/>
<line x1="449.30" y1="556.00" x2="460.30" y2="556.00" stroke="#231f20" stroke-width="4.2" stroke-linecap="round"/>
<line x1="537.10" y1="475.90" x2="537.10" y2="485.80" stroke="#231f20" stroke-width="4.2" stroke-linecap="butt"/>
<line x1="531.60" y1="475.90" x2="542.60" y2="475.90" stroke="#231f20" stroke-width="4.2" stroke-linecap="round"/>
<line x1="619.30" y1="435.40" x2="619.30" y2="453.50" stroke="#231f20" stroke-width="4.2" stroke-linecap="butt"/>
<line x1="613.80" y1="435.40" x2="624.80" y2="435.40" stroke="#231f20" stroke-width="4.2" stroke-linecap="round"/>
<line x1="701.40" y1="461.60" x2="701.40" y2="483.60" stroke="#231f20" stroke-width="4.2" stroke-linecap="butt"/>
<line x1="695.90" y1="461.60" x2="706.90" y2="461.60" stroke="#231f20" stroke-width="4.2" stroke-linecap="round"/>
<circle cx="454.80" cy="561.50" r="7.80" fill="#231f20"/>
<circle cx="537.10" cy="485.80" r="7.80" fill="#231f20"/>
<circle cx="619.30" cy="453.50" r="7.80" fill="#231f20"/>
<circle cx="701.40" cy="483.60" r="7.80" fill="#231f20"/>
<circle cx="783.80" cy="521.80" r="7.80" fill="#231f20"/>
<text transform="translate(832.80 408.90) scale(1 1.044)" font-size="32" text-anchor="start">E</text>
<line x1="928.50" y1="410.40" x2="928.50" y2="686.70" stroke="#231f20" stroke-width="4.4" stroke-linecap="butt"/>
<line x1="914.50" y1="684.50" x2="1112.20" y2="684.50" stroke="#231f20" stroke-width="4.4" stroke-linecap="butt"/>
<line x1="914.50" y1="684.50" x2="928.50" y2="684.50" stroke="#231f20" stroke-width="4.4" stroke-linecap="butt"/>
<text transform="translate(913.80 691.10) scale(1 1.044)" font-size="20.8" text-anchor="end">0</text>
<line x1="914.50" y1="616.52" x2="928.50" y2="616.52" stroke="#231f20" stroke-width="4.4" stroke-linecap="butt"/>
<text transform="translate(913.60 623.92) scale(1 1.044)" font-size="20.8" text-anchor="end">200</text>
<line x1="914.50" y1="548.55" x2="928.50" y2="548.55" stroke="#231f20" stroke-width="4.4" stroke-linecap="butt"/>
<text transform="translate(913.60 555.95) scale(1 1.044)" font-size="20.8" text-anchor="end">400</text>
<line x1="914.50" y1="480.57" x2="928.50" y2="480.57" stroke="#231f20" stroke-width="4.4" stroke-linecap="butt"/>
<text transform="translate(913.60 487.97) scale(1 1.044)" font-size="20.8" text-anchor="end">600</text>
<line x1="914.50" y1="412.60" x2="928.50" y2="412.60" stroke="#231f20" stroke-width="4.4" stroke-linecap="butt"/>
<text transform="translate(913.60 420.00) scale(1 1.044)" font-size="20.8" text-anchor="end">800</text>
<text transform="translate(861.50 547.20) rotate(-90) scale(1 1.044)" font-size="20.3" text-anchor="middle">GTT (AUC)</text>
<rect x="956.45" y="568.35" width="48.20" height="116.15" fill="#fcfcfc" stroke="#231f20" stroke-width="4.1"/>
<rect x="1033.10" y="578.50" width="52.10" height="106.00" fill="#231f20"/>
<line x1="980.40" y1="548.30" x2="980.40" y2="584.30" stroke="#231f20" stroke-width="3.9" stroke-linecap="butt"/>
<line x1="967.40" y1="548.30" x2="993.40" y2="548.30" stroke="#231f20" stroke-width="3.9" stroke-linecap="round"/>
<line x1="967.40" y1="584.30" x2="993.40" y2="584.30" stroke="#231f20" stroke-width="3.9" stroke-linecap="round"/>
<line x1="1059.00" y1="565.80" x2="1059.00" y2="578.50" stroke="#231f20" stroke-width="3.9" stroke-linecap="butt"/>
<line x1="1046.00" y1="565.80" x2="1072.00" y2="565.80" stroke="#231f20" stroke-width="3.9" stroke-linecap="round"/>
<circle cx="980.30" cy="486.60" r="5.55" fill="#fcfcfc" stroke="#231f20" stroke-width="2.7"/>
<circle cx="959.70" cy="550.60" r="5.55" fill="#fcfcfc" stroke="#231f20" stroke-width="2.7"/>
<circle cx="980.30" cy="556.20" r="5.55" fill="#fcfcfc" stroke="#231f20" stroke-width="2.7"/>
<circle cx="1001.50" cy="553.20" r="5.55" fill="#fcfcfc" stroke="#231f20" stroke-width="2.7"/>
<circle cx="980.30" cy="580.30" r="5.55" fill="#fcfcfc" stroke="#231f20" stroke-width="2.7"/>
<circle cx="980.30" cy="600.00" r="5.55" fill="#fcfcfc" stroke="#231f20" stroke-width="2.7"/>
<circle cx="980.30" cy="636.50" r="5.55" fill="#fcfcfc" stroke="#231f20" stroke-width="2.7"/>
<circle cx="1059.00" cy="503.50" r="5.45" fill="#a1a2a5" stroke="#231f20" stroke-width="2.7"/>
<circle cx="1048.60" cy="558.70" r="5.45" fill="#a1a2a5" stroke="#231f20" stroke-width="2.7"/>
<circle cx="1069.40" cy="557.50" r="5.45" fill="#a1a2a5" stroke="#231f20" stroke-width="2.7"/>
<circle cx="1059.00" cy="590.40" r="5.45" fill="#a1a2a5" stroke="#231f20" stroke-width="2.7"/>
<circle cx="1080.00" cy="597.20" r="5.45" fill="#a1a2a5" stroke="#231f20" stroke-width="2.7"/>
<circle cx="1059.00" cy="603.00" r="5.45" fill="#a1a2a5" stroke="#231f20" stroke-width="2.7"/>
<circle cx="1037.70" cy="609.90" r="5.45" fill="#a1a2a5" stroke="#231f20" stroke-width="2.7"/>
<circle cx="1080.00" cy="609.40" r="5.45" fill="#a1a2a5" stroke="#231f20" stroke-width="2.7"/>
<line x1="945.65" y1="693.75" x2="1004.25" y2="693.75" stroke="#231f20" stroke-width="4.7" stroke-linecap="round"/>
<line x1="1035.05" y1="693.75" x2="1093.65" y2="693.75" stroke="#231f20" stroke-width="4.7" stroke-linecap="round"/>
<text transform="translate(977.30 723.30) scale(1 1.085)" font-size="20.3" text-anchor="middle">WT</text>
<text transform="translate(1066.00 725.20) scale(1 1.085)" font-size="20.3" text-anchor="middle">STAT6<tspan font-size="14.4" dy="-7.5">-/-</tspan></text>
<text transform="translate(1135.30 408.90) scale(1 1.044)" font-size="32" text-anchor="start">F</text>
<line x1="1268.50" y1="410.20" x2="1268.50" y2="686.50" stroke="#231f20" stroke-width="4.4" stroke-linecap="butt"/>
<line x1="1258.20" y1="684.30" x2="1452.40" y2="684.30" stroke="#231f20" stroke-width="4.4" stroke-linecap="butt"/>
<line x1="1258.20" y1="684.30" x2="1268.50" y2="684.30" stroke="#231f20" stroke-width="4.4" stroke-linecap="butt"/>
<text transform="translate(1257.60 690.90) scale(1 1.044)" font-size="20.8" text-anchor="end">0</text>
<line x1="1258.20" y1="616.35" x2="1268.50" y2="616.35" stroke="#231f20" stroke-width="4.4" stroke-linecap="butt"/>
<text transform="translate(1257.40 623.75) scale(1 1.044)" font-size="20.8" text-anchor="end">5000</text>
<line x1="1258.20" y1="548.40" x2="1268.50" y2="548.40" stroke="#231f20" stroke-width="4.4" stroke-linecap="butt"/>
<text transform="translate(1257.40 555.80) scale(1 1.044)" font-size="20.8" text-anchor="end">10000</text>
<line x1="1258.20" y1="480.45" x2="1268.50" y2="480.45" stroke="#231f20" stroke-width="4.4" stroke-linecap="butt"/>
<text transform="translate(1257.40 487.85) scale(1 1.044)" font-size="20.8" text-anchor="end">15000</text>
<line x1="1258.20" y1="412.50" x2="1268.50" y2="412.50" stroke="#231f20" stroke-width="4.4" stroke-linecap="butt"/>
<text transform="translate(1257.40 419.90) scale(1 1.044)" font-size="20.8" text-anchor="end">20000</text>
<text transform="translate(1166.60 547.50) rotate(-90) scale(1 1.044)" font-size="21.85" text-anchor="middle">mg/dl of triglyceride</text>
<text transform="translate(1192.90 545.50) rotate(-90) scale(1 1.044)" font-size="21.85" text-anchor="middle">per 100mg wet liver weight</text>
<rect x="1296.65" y="523.65" width="48.20" height="160.65" fill="#fcfcfc" stroke="#231f20" stroke-width="4.1"/>
<rect x="1373.20" y="525.10" width="52.70" height="159.20" fill="#231f20"/>
<circle cx="1309.90" cy="494.70" r="5.55" fill="#fcfcfc" stroke="#231f20" stroke-width="2.7"/>
<circle cx="1331.50" cy="495.60" r="5.55" fill="#fcfcfc" stroke="#231f20" stroke-width="2.7"/>
<circle cx="1320.60" cy="507.70" r="5.55" fill="#fcfcfc" stroke="#231f20" stroke-width="2.7"/>
<circle cx="1331.50" cy="551.00" r="5.55" fill="#fcfcfc" stroke="#231f20" stroke-width="2.7"/>
<circle cx="1309.90" cy="558.30" r="5.55" fill="#fcfcfc" stroke="#231f20" stroke-width="2.7"/>
<circle cx="1399.60" cy="439.80" r="5.45" fill="#a1a2a5" stroke="#231f20" stroke-width="2.7"/>
<circle cx="1399.60" cy="499.10" r="5.45" fill="#a1a2a5" stroke="#231f20" stroke-width="2.7"/>
<circle cx="1388.50" cy="511.10" r="5.45" fill="#a1a2a5" stroke="#231f20" stroke-width="2.7"/>
<circle cx="1410.10" cy="518.00" r="5.45" fill="#a1a2a5" stroke="#231f20" stroke-width="2.7"/>
<circle cx="1410.10" cy="543.30" r="5.45" fill="#a1a2a5" stroke="#231f20" stroke-width="2.7"/>
<circle cx="1388.50" cy="551.00" r="5.45" fill="#a1a2a5" stroke="#231f20" stroke-width="2.7"/>
<circle cx="1410.10" cy="557.20" r="5.45" fill="#a1a2a5" stroke="#231f20" stroke-width="2.7"/>
<circle cx="1399.60" cy="583.40" r="5.45" fill="#a1a2a5" stroke="#231f20" stroke-width="2.7"/>
<line x1="1320.80" y1="507.70" x2="1320.80" y2="535.50" stroke="#231f20" stroke-width="3.9" stroke-linecap="butt"/>
<line x1="1307.80" y1="507.70" x2="1333.80" y2="507.70" stroke="#231f20" stroke-width="3.9" stroke-linecap="round"/>
<line x1="1307.80" y1="535.50" x2="1333.80" y2="535.50" stroke="#231f20" stroke-width="3.9" stroke-linecap="round"/>
<line x1="1399.60" y1="509.40" x2="1399.60" y2="540.80" stroke="#231f20" stroke-width="3.9" stroke-linecap="butt"/>
<line x1="1386.60" y1="509.40" x2="1412.60" y2="509.40" stroke="#231f20" stroke-width="3.9" stroke-linecap="round"/>
<line x1="1386.60" y1="540.80" x2="1412.60" y2="540.80" stroke="#231f20" stroke-width="3.9" stroke-linecap="round"/>
<line x1="1279.60" y1="694.70" x2="1338.70" y2="694.70" stroke="#231f20" stroke-width="4.6" stroke-linecap="round"/>
<line x1="1374.30" y1="694.70" x2="1433.40" y2="694.70" stroke="#231f20" stroke-width="4.6" stroke-linecap="round"/>
<text transform="translate(1311.50 723.90) scale(1 1.085)" font-size="20.3" text-anchor="middle">WT</text>
<text transform="translate(1404.50 725.80) scale(1 1.085)" font-size="20.3" text-anchor="middle">STAT6<tspan font-size="14.4" dy="-7.5">-/-</tspan></text>
<text transform="translate(1485.30 408.90) scale(1 1.044)" font-size="32" text-anchor="start">G</text>
<line x1="1569.70" y1="410.60" x2="1569.70" y2="686.05" stroke="#231f20" stroke-width="3.1" stroke-linecap="butt"/>
<line x1="1561.90" y1="684.50" x2="1733.10" y2="684.50" stroke="#231f20" stroke-width="3.1" stroke-linecap="butt"/>
<line x1="1561.90" y1="684.50" x2="1569.70" y2="684.50" stroke="#231f20" stroke-width="3.1" stroke-linecap="butt"/>
<text transform="translate(1560.60 691.10) scale(1 1.044)" font-size="20.8" text-anchor="end">0</text>
<line x1="1561.90" y1="593.80" x2="1569.70" y2="593.80" stroke="#231f20" stroke-width="3.1" stroke-linecap="butt"/>
<text transform="translate(1560.40 601.20) scale(1 1.044)" font-size="20.8" text-anchor="end">100</text>
<line x1="1561.90" y1="503.10" x2="1569.70" y2="503.10" stroke="#231f20" stroke-width="3.1" stroke-linecap="butt"/>
<text transform="translate(1560.40 510.50) scale(1 1.044)" font-size="20.8" text-anchor="end">200</text>
<line x1="1561.90" y1="412.40" x2="1569.70" y2="412.40" stroke="#231f20" stroke-width="3.1" stroke-linecap="butt"/>
<text transform="translate(1560.40 419.80) scale(1 1.044)" font-size="20.8" text-anchor="end">300</text>
<text transform="translate(1496.80 547.30) rotate(-90) scale(1 1.044)" font-size="20.3" text-anchor="middle">ALT &#160;(IU/ml)</text>
<rect x="1585.40" y="560.00" width="50.50" height="124.50" fill="#fcfcfc" stroke="#231f20" stroke-width="4.2"/>
<rect x="1665.00" y="561.50" width="54.70" height="123.00" fill="#231f20"/>
<circle cx="1599.70" cy="500.70" r="5.55" fill="#fcfcfc" stroke="#231f20" stroke-width="2.7"/>
<circle cx="1621.20" cy="510.30" r="5.55" fill="#fcfcfc" stroke="#231f20" stroke-width="2.7"/>
<circle cx="1599.70" cy="519.50" r="5.55" fill="#fcfcfc" stroke="#231f20" stroke-width="2.7"/>
<circle cx="1610.30" cy="553.60" r="5.55" fill="#fcfcfc" stroke="#231f20" stroke-width="2.7"/>
<circle cx="1599.70" cy="594.60" r="5.55" fill="#fcfcfc" stroke="#231f20" stroke-width="2.7"/>
<circle cx="1621.20" cy="603.50" r="5.55" fill="#fcfcfc" stroke="#231f20" stroke-width="2.7"/>
<circle cx="1610.30" cy="623.30" r="5.55" fill="#fcfcfc" stroke="#231f20" stroke-width="2.7"/>
<circle cx="1703.20" cy="455.60" r="5.45" fill="#a1a2a5" stroke="#231f20" stroke-width="2.7"/>
<circle cx="1681.00" cy="464.20" r="5.45" fill="#a1a2a5" stroke="#231f20" stroke-width="2.7"/>
<circle cx="1692.30" cy="550.20" r="5.45" fill="#a1a2a5" stroke="#231f20" stroke-width="2.7"/>
<circle cx="1692.30" cy="571.00" r="5.45" fill="#a1a2a5" stroke="#231f20" stroke-width="2.7"/>
<circle cx="1669.70" cy="601.80" r="5.45" fill="#a1a2a5" stroke="#231f20" stroke-width="2.7"/>
<circle cx="1692.30" cy="605.20" r="5.45" fill="#a1a2a5" stroke="#231f20" stroke-width="2.7"/>
<circle cx="1714.10" cy="605.20" r="5.45" fill="#a1a2a5" stroke="#231f20" stroke-width="2.7"/>
<circle cx="1692.30" cy="640.00" r="5.45" fill="#a1a2a5" stroke="#231f20" stroke-width="2.7"/>
<line x1="1610.50" y1="539.10" x2="1610.50" y2="576.70" stroke="#231f20" stroke-width="3.5" stroke-linecap="butt"/>
<line x1="1597.25" y1="539.10" x2="1623.75" y2="539.10" stroke="#231f20" stroke-width="3.5" stroke-linecap="round"/>
<line x1="1597.25" y1="576.70" x2="1623.75" y2="576.70" stroke="#231f20" stroke-width="3.5" stroke-linecap="round"/>
<line x1="1692.30" y1="537.60" x2="1692.30" y2="585.40" stroke="#231f20" stroke-width="3.5" stroke-linecap="butt"/>
<line x1="1679.05" y1="537.60" x2="1705.55" y2="537.60" stroke="#231f20" stroke-width="3.5" stroke-linecap="round"/>
<line x1="1679.05" y1="585.40" x2="1705.55" y2="585.40" stroke="#231f20" stroke-width="3.5" stroke-linecap="round"/>
<line x1="1587.60" y1="694.60" x2="1630.00" y2="694.60" stroke="#231f20" stroke-width="3.4" stroke-linecap="round"/>
<line x1="1668.10" y1="694.60" x2="1710.10" y2="694.60" stroke="#231f20" stroke-width="3.4" stroke-linecap="round"/>
<text transform="translate(1609.10 718.30) scale(1 1.085)" font-size="20.3" text-anchor="middle">WT</text>
<text transform="translate(1692.10 720.20) scale(1 1.085)" font-size="20.3" text-anchor="middle">STAT6<tspan font-size="14.4" dy="-7.5">-/-</tspan></text>
<rect x="0.00" y="759.60" width="1753.00" height="3.60" fill="#231f20"/>
<text transform="translate(875.20 790.30) scale(1 1.044)" font-size="22.5" text-anchor="middle">HF + HC</text>
</svg>
</body></html>
